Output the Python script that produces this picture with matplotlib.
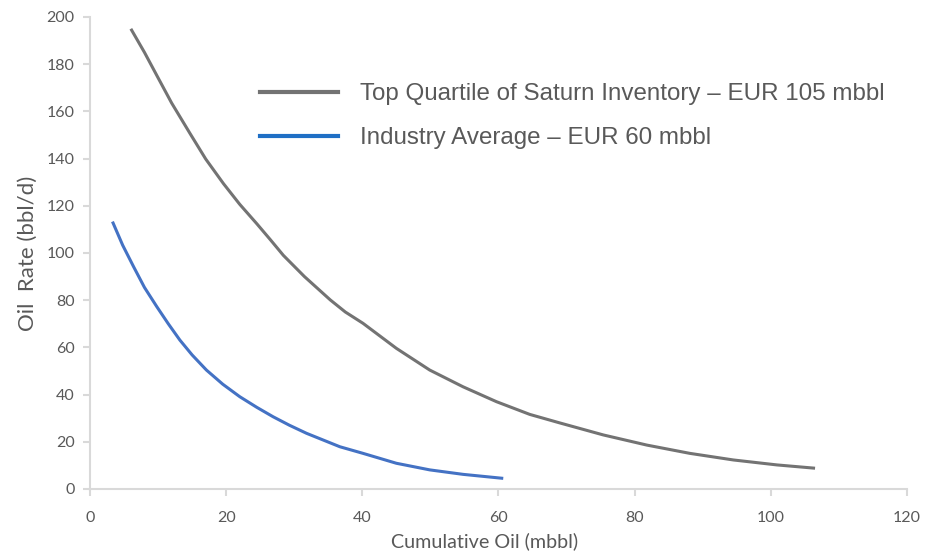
import numpy as np
import matplotlib
matplotlib.use("Agg")
import matplotlib.pyplot as plt
from matplotlib.lines import Line2D

# ── Data ──────────────────────────────────────────────────────────────────────
top_cum = [6.0, 8.0, 9.8, 12.0, 14.7, 17.0, 19.6, 22.0, 24.5, 26.5, 28.4,
           31.5, 35.3, 37.5, 40.1, 45.0, 49.9, 54.8, 59.7, 64.6, 69.0, 75.4,
           81.8, 88.1, 94.5, 100.9, 106.5]
top_rate = [195.0, 185.0, 175.3, 163.5, 150.6, 139.8, 129.4, 120.6, 112.4,
            105.6, 99.0, 90.0, 80.1, 75.0, 70.2, 59.6, 50.4, 43.3, 37.0, 31.6,
            28.0, 22.9, 18.6, 15.1, 12.3, 10.2, 8.8]

ind_cum = [3.3, 4.8, 6.4, 8.0, 9.8, 11.5, 13.2, 15.0, 17.1, 19.5, 22.0, 24.5,
           26.9, 29.3, 31.8, 36.7, 40.1, 45.0, 49.9, 54.8, 60.7]
ind_rate = [113.3, 103.3, 94.2, 85.4, 77.3, 70.0, 63.1, 56.8, 50.4, 44.4,
            39.1, 34.6, 30.6, 27.0, 23.6, 17.9, 15.1, 10.9, 8.1, 6.2, 4.5]

labels = ["Top Quartile of Saturn Inventory – EUR 105 mbbl",
          "Industry Average – EUR 60 mbbl"]
x_ticks = [0, 20, 40, 60, 80, 100, 120]
y_ticks = list(range(0, 201, 20))

GRAY_LINE = "#737373"
BLUE_LINE = "#4472c4"
BLUE_LEG = "#1f6fc5"
AXIS_GRAY = "#d9d9d9"
TEXT_GRAY = "#595959"

# ── Plot ──────────────────────────────────────────────────────────────────────
fig = plt.figure(figsize=(9.25, 5.57), dpi=100)
ax = fig.add_axes([0.0973, 0.1221, 0.8832, 0.8474])

ax.plot(top_cum, top_rate, color=GRAY_LINE, lw=2.2, solid_capstyle="butt",
        solid_joinstyle="round")
ax.plot(ind_cum, ind_rate, color=BLUE_LINE, lw=2.2, solid_capstyle="butt",
        solid_joinstyle="round")

ax.set_xlim(0, 120)
ax.set_ylim(0, 200)
ax.set_xticks(x_ticks)
ax.set_yticks(y_ticks)

for s in ("top", "right"):
    ax.spines[s].set_visible(False)
for s in ("left", "bottom"):
    ax.spines[s].set_color(AXIS_GRAY)
    ax.spines[s].set_linewidth(1.5)
ax.tick_params(length=5, width=1.5, color=AXIS_GRAY, labelcolor=TEXT_GRAY,
               labelsize=11.5)
ax.tick_params(axis="x", pad=11)
ax.tick_params(axis="y", pad=6)
for t in ax.get_xticklabels() + ax.get_yticklabels():
    t.set_family("Lato")

ax.set_xlabel("Cumulative Oil (mbbl)", fontsize=14.2, color=TEXT_GRAY,
              family="Lato", labelpad=5)
ax.xaxis.set_label_coords(0.483, -0.092)
ax.set_ylabel("Oil  Rate (bbl/d)", fontsize=16, color=TEXT_GRAY,
              family="Lato", labelpad=6)

handles = [Line2D([], [], color=GRAY_LINE, lw=3),
           Line2D([], [], color=BLUE_LEG, lw=3)]
leg = fig.legend(handles, labels, loc="upper left",
                 bbox_to_anchor=(0.2815, 0.851), frameon=False,
                 prop={"family": "Liberation Sans", "size": 17.4},
                 handlelength=3.2, handletextpad=0.92, labelspacing=0.92,
                 borderpad=0, borderaxespad=0)
for t in leg.get_texts():
    t.set_color(TEXT_GRAY)

fig.savefig("out.png", dpi=100)
